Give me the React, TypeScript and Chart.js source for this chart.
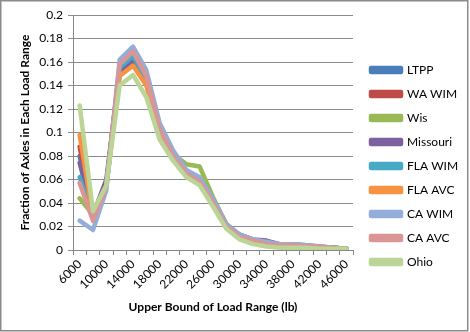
import React, { useEffect, useRef } from "react";
import { Chart, registerables } from "chart.js";

Chart.register(...registerables);

const categories = [
  "6000", "8000", "10000", "12000", "14000", "16000", "18000", "20000", "22000", "24000",
  "26000", "28000", "30000", "32000", "34000", "36000", "38000", "40000", "42000", "44000", "46000",
];

const seriesNames = ["LTPP", "WA WIM", "Wis", "Missouri", "FLA WIM", "FLA AVC", "CA WIM", "CA AVC", "Ohio"];

const ltpp = [0.080, 0.028, 0.055, 0.156, 0.166, 0.147, 0.103, 0.082, 0.066, 0.060, 0.042, 0.021, 0.012, 0.008, 0.006, 0.004, 0.004, 0.003, 0.002, 0.002, 0.001];
const waWim = [0.088, 0.027, 0.055, 0.150, 0.160, 0.142, 0.100, 0.080, 0.065, 0.059, 0.040, 0.020, 0.011, 0.007, 0.005, 0.004, 0.003, 0.003, 0.002, 0.002, 0.001];
const wis = [0.044, 0.030, 0.055, 0.154, 0.162, 0.143, 0.100, 0.082, 0.073, 0.071, 0.045, 0.022, 0.012, 0.008, 0.006, 0.004, 0.004, 0.003, 0.002, 0.002, 0.001];
const missouri = [0.074, 0.030, 0.060, 0.152, 0.162, 0.145, 0.102, 0.082, 0.066, 0.060, 0.042, 0.022, 0.013, 0.009, 0.008, 0.005, 0.005, 0.004, 0.003, 0.002, 0.001];
const flaWim = [0.062, 0.028, 0.055, 0.155, 0.165, 0.146, 0.102, 0.081, 0.066, 0.060, 0.041, 0.021, 0.011, 0.008, 0.006, 0.004, 0.004, 0.003, 0.002, 0.002, 0.001];
const flaAvc = [0.098, 0.028, 0.055, 0.148, 0.157, 0.140, 0.098, 0.078, 0.063, 0.057, 0.038, 0.019, 0.010, 0.006, 0.004, 0.003, 0.003, 0.002, 0.002, 0.001, 0.001];
const caWim = [0.025, 0.017, 0.051, 0.162, 0.173, 0.153, 0.108, 0.085, 0.068, 0.062, 0.043, 0.022, 0.013, 0.009, 0.007, 0.005, 0.005, 0.004, 0.003, 0.002, 0.001];
const caAvc = [0.057, 0.025, 0.054, 0.158, 0.169, 0.148, 0.103, 0.080, 0.065, 0.058, 0.040, 0.020, 0.011, 0.008, 0.005, 0.004, 0.004, 0.003, 0.003, 0.002, 0.001];
const ohio = [0.123, 0.033, 0.055, 0.140, 0.149, 0.130, 0.094, 0.076, 0.062, 0.055, 0.037, 0.018, 0.009, 0.005, 0.003, 0.002, 0.002, 0.002, 0.001, 0.001, 0.001];

const seriesValues = [ltpp, waWim, wis, missouri, flaWim, flaAvc, caWim, caAvc, ohio];
const seriesColors = ["#4A7EBB", "#BE4B48", "#98B954", "#7D60A0", "#46AAC5", "#F69240", "#93AEDA", "#D99694", "#BBD597"];

const FONT = "Lato, 'Liberation Sans', sans-serif";

const frame = {
  id: "frame",
  beforeDraw(chart: any) {
    const ctx = chart.ctx;
    ctx.save();
    ctx.fillStyle = "#ffffff";
    ctx.fillRect(0, 0, chart.width, chart.height);
    ctx.restore();
  },
  afterDraw(chart: any) {
    const ctx = chart.ctx;
    ctx.save();
    ctx.strokeStyle = "#8a8a8a";
    ctx.lineWidth = 1.5;
    ctx.strokeRect(0.75, 0.75, 467, 330);
    ctx.restore();
  },
};

export default function App() {
  const ref = useRef<HTMLCanvasElement | null>(null);

  useEffect(() => {
    if (!ref.current) return;
    const n = seriesNames.length;
    const chart = new Chart(ref.current, {
      type: "line",
      data: {
        labels: categories,
        datasets: seriesNames.map((name, i) => ({
          label: name,
          data: seriesValues[i],
          borderColor: seriesColors[i],
          backgroundColor: seriesColors[i],
          borderWidth: 4.5,
          pointRadius: 0,
          tension: 0,
          borderJoinStyle: "round" as const,
          borderCapStyle: "round" as const,
          order: n - 1 - i,
        })),
      },
      options: {
        responsive: false,
        animation: false,
        layout: { padding: { left: 0, right: 2, top: 0, bottom: 0 } },
        plugins: {
          tooltip: { enabled: false },
          legend: {
            position: "right",
            reverse: true,
            maxWidth: 109,
            labels: {
              boxWidth: 30,
              boxHeight: 4,
              padding: 12,
              color: "#000",
              font: { family: FONT, size: 12 },
            },
          },
        },
        scales: {
          x: {
            type: "category",
            offset: true,
            grid: {
              display: true,
              drawOnChartArea: false,
              drawTicks: true,
              tickLength: 5,
              color: "#868686",
              offset: true,
            },
            border: { display: true, color: "#868686", width: 1 },
            ticks: {
              autoSkip: false,
              maxRotation: 45,
              minRotation: 45,
              padding: 2,
              color: "#000",
              font: { family: FONT, size: 12 },
              callback: (_v: any, i: number) => (i % 2 === 0 ? categories[i] : ""),
            },
            title: {
              display: true,
              text: "Upper Bound of Load Range (lb)",
              color: "#000",
              font: { family: FONT, size: 12, weight: "bold" },
              padding: { top: 0, bottom: 18 },
            },
            afterFit: (s: any) => {
              s.height = 82;
            },
          },
          y: {
            min: 0,
            max: 0.2,
            ticks: {
              stepSize: 0.02,
              padding: 5,
              color: "#000",
              font: { family: FONT, size: 12 },
              callback: (v: any) => String(Math.round(Number(v) * 100) / 100),
            },
            grid: { color: "#8c8c8c", tickLength: 5, drawTicks: true },
            border: { display: true, color: "#868686", width: 1 },
            title: {
              display: true,
              text: "Fraction of Axles in Each Load Range",
              color: "#000",
              font: { family: FONT, size: 12, weight: "bold" },
              padding: { top: 18, bottom: 0 },
            },
            afterFit: (s: any) => {
              s.width = 73;
            },
          },
          topSpace: {
            type: "linear",
            position: "top",
            display: true,
            grid: { display: false },
            border: { display: false },
            ticks: { display: false },
            afterFit: (s: any) => {
              s.height = 15;
            },
          },
          rightSpace: {
            type: "linear",
            position: "right",
            display: true,
            grid: { display: false },
            border: { display: false },
            ticks: { display: false },
            afterFit: (s: any) => {
              s.width = 6;
            },
          },
        },
      },
      plugins: [frame],
    } as any);
    return () => chart.destroy();
  }, []);

  return (
    <div style={{ position: "fixed", left: 0, top: 0, width: 470, height: 332 }}>
      <canvas ref={ref} width={470} height={332} />
    </div>
  );
}
